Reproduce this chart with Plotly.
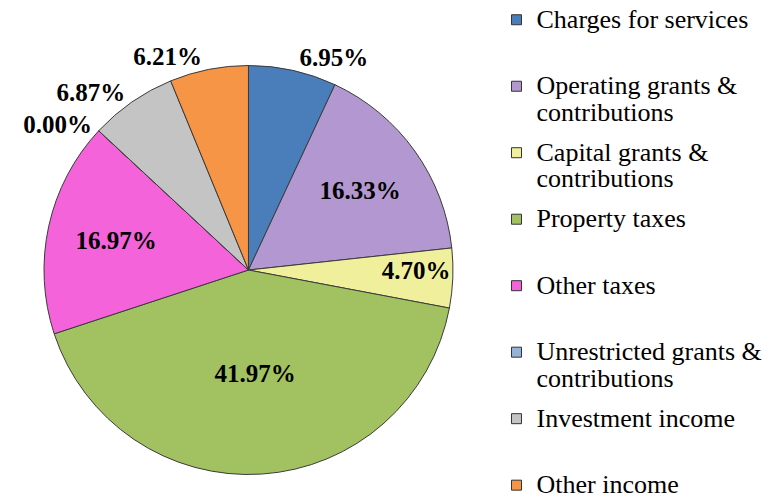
import plotly.graph_objects as go

categories = [
    ["Charges for services"],
    ["Operating grants &", "contributions"],
    ["Capital grants &", "contributions"],
    ["Property taxes"],
    ["Other taxes"],
    ["Unrestricted grants &", "contributions"],
    ["Investment income"],
    ["Other income"],
]
shares = [6.95, 16.33, 4.70, 41.97, 16.97, 0.00, 6.87, 6.21]
colors = ["#4A7EBB", "#B297D0", "#F0F09C", "#A2C262", "#F563DA", "#95B3D7", "#C4C4C4", "#F59545"]
text_pos = ["outside", "inside", "inside", "inside", "inside", "outside", "outside", "outside"]

FONT = "Liberation Serif, Times New Roman, serif"


def legend_text(lines):
    parts = ['<span style="font-size:26px">%s</span>' % ln for ln in lines]
    if len(parts) == 1:
        parts.append(" ")
    return "<br>".join(parts)


plain_labels = [" ".join(c) for c in categories]

fig = go.Figure()
fig.add_trace(
    go.Pie(
        labels=plain_labels,
        values=shares,
        sort=False,
        direction="clockwise",
        rotation=0,
        marker=dict(colors=colors, line=dict(color="#3a3a3a", width=1)),
        texttemplate="%{value:.2f}%",
        textposition=text_pos,
        insidetextorientation="horizontal",
        textfont=dict(family=FONT, size=25, color="#000000", weight="bold"),
        domain=dict(x=[0.0571, 0.5883], y=[0.0491, 0.8687]),
        hoverinfo="label+percent",
        showlegend=False,
    )
)

# legend entries (one per category)
for i, (lines, col) in enumerate(zip(categories, colors)):
    fig.add_trace(
        go.Scatter(
            x=[None],
            y=[None],
            mode="markers",
            name=legend_text(lines),
            legendgroup="g%d" % i,
            marker=dict(symbol="square", size=10, color=col, line=dict(color="#333333", width=1)),
            showlegend=True,
            hoverinfo="skip",
        )
    )

fig.update_layout(
    width=770,
    height=499,
    margin=dict(l=0, r=0, t=0, b=0, autoexpand=False),
    paper_bgcolor="white",
    plot_bgcolor="white",
    xaxis=dict(visible=False),
    yaxis=dict(visible=False),
    showlegend=True,
    legend=dict(
        x=0.6448,
        y=1.0,
        xanchor="left",
        yanchor="top",
        valign="top",
        tracegroupgap=10.5,
        maxheight=800,
        font=dict(family=FONT, size=20.38, color="#000000"),
        bgcolor="rgba(0,0,0,0)",
    ),
)

fig.write_html(
    "out.html",
    config={"displayModeBar": False},
    post_script="document.body.style.margin='0';",
)
